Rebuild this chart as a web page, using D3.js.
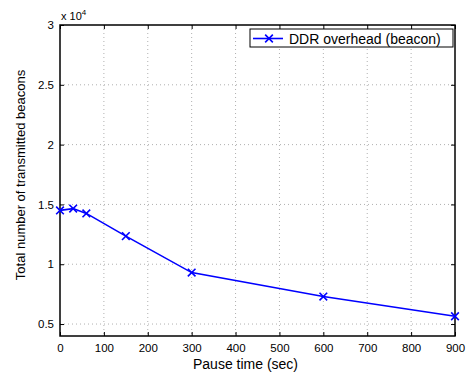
<!DOCTYPE html>
<html>
<head>
<meta charset="utf-8">
<script src="https://cdn.jsdelivr.net/npm/d3@7"></script>
<style>
  body { margin: 0; background: #fff; }
  svg { font-family: "Liberation Sans", Arial, sans-serif; }
</style>
</head>
<body>
<div id="chart"></div>
<script>
// pause times (sec) and beacon counts (x 10^4)
const pauseTimes = [0, 30, 60, 150, 300, 600, 900];
const beacons = [1.45, 1.465, 1.425, 1.235, 0.93, 0.73, 0.565];
const xTicks = [0, 100, 200, 300, 400, 500, 600, 700, 800, 900];
const yTicks = [0.5, 1, 1.5, 2, 2.5, 3];
const seriesName = "DDR overhead (beacon)";

const W = 468, H = 376;
const margin = {top: 25, right: 13, bottom: 40, left: 60};
const width = W - margin.left - margin.right,
  height = H - margin.top - margin.bottom;

const svg = d3.select("#chart").append("svg")
  .attr("width", W).attr("height", H);
const g = svg.append("g")
  .attr("transform", "translate(" + margin.left + "," + margin.top + ")");

const x = d3.scaleLinear().domain([0, 900]).range([0, width]);
const y = d3.scaleLinear().domain([0.4, 3]).range([height, 0]);

// grid
g.append("g").selectAll("line").data(xTicks.slice(1, -1)).join("line")
  .attr("x1", d => x(d)).attr("x2", d => x(d))
  .attr("y1", 0).attr("y2", height)
  .attr("stroke", "#b0b0b0").attr("stroke-dasharray", "1,3");
g.append("g").selectAll("line").data(yTicks.slice(0, -1)).join("line")
  .attr("x1", 0).attr("x2", width)
  .attr("y1", d => y(d)).attr("y2", d => y(d))
  .attr("stroke", "#b0b0b0").attr("stroke-dasharray", "1,3");

// axes, ticks inward
const styleAxis = sel => {
  sel.select(".domain").remove();
  sel.selectAll("line").attr("stroke", "#000");
  sel.selectAll("text").attr("fill", "#000").style("font-size", "11.5px");
};
g.append("g").attr("transform", "translate(0," + height + ")")
  .call(d3.axisBottom(x).tickValues(xTicks).tickSizeInner(-4).tickPadding(8))
  .call(styleAxis);
g.append("g")
  .call(d3.axisTop(x).tickValues(xTicks).tickSizeInner(-4).tickFormat(""))
  .call(styleAxis);
g.append("g")
  .call(d3.axisLeft(y).tickValues(yTicks).tickSizeInner(-4).tickPadding(6).tickFormat(d3.format("")))
  .call(styleAxis);
g.append("g").attr("transform", "translate(" + width + ",0)")
  .call(d3.axisRight(y).tickValues(yTicks).tickSizeInner(-4).tickFormat(""))
  .call(styleAxis);

g.append("rect").attr("width", width).attr("height", height)
  .attr("fill", "none").attr("stroke", "#000").attr("stroke-width", 1.5);

// exponent label
const expo = g.append("text").attr("x", 1).attr("y", -5)
  .style("font-size", "11px").text("x 10");
expo.append("tspan").attr("dy", -5).style("font-size", "8px").text("4");

// series
const pts = pauseTimes.map((t, i) => [t, beacons[i]]);
g.append("path").datum(pts)
  .attr("fill", "none").attr("stroke", "#0000ff").attr("stroke-width", 1.6)
  .attr("d", d3.line().x(d => x(d[0])).y(d => y(d[1])));
const cross = d3.symbol().type(d3.symbolX).size(40);
g.selectAll(".mk").data(pts).join("path")
  .attr("transform", d => "translate(" + x(d[0]) + "," + y(d[1]) + ")")
  .attr("d", cross).attr("fill", "none").attr("stroke", "#0000ff").attr("stroke-width", 1.6);

// legend
const lg = g.append("g").attr("transform", "translate(" + (width - 205) + ",4)");
lg.append("rect").attr("width", 203).attr("height", 18)
  .attr("fill", "#fff").attr("stroke", "#000").attr("stroke-width", 1);
lg.append("line").attr("x1", 3).attr("x2", 33).attr("y1", 9.5).attr("y2", 9.5)
  .attr("stroke", "#0000ff").attr("stroke-width", 1.6);
lg.append("path").attr("transform", "translate(19,9.5)").attr("d", cross)
  .attr("fill", "none").attr("stroke", "#0000ff").attr("stroke-width", 1.6);
lg.append("text").attr("x", 39).attr("y", 14.5).style("font-size", "14px").text(seriesName);

// axis titles
svg.append("text").attr("x", margin.left + width / 2 - 12).attr("y", H - 7)
  .attr("text-anchor", "middle").style("font-size", "14px").text("Pause time (sec)");
svg.append("text").attr("transform", "translate(25," + 175 + ") rotate(-90)")
  .attr("text-anchor", "middle").style("font-size", "13px").text("Total number of transmitted beacons");
</script>
</body>
</html>
